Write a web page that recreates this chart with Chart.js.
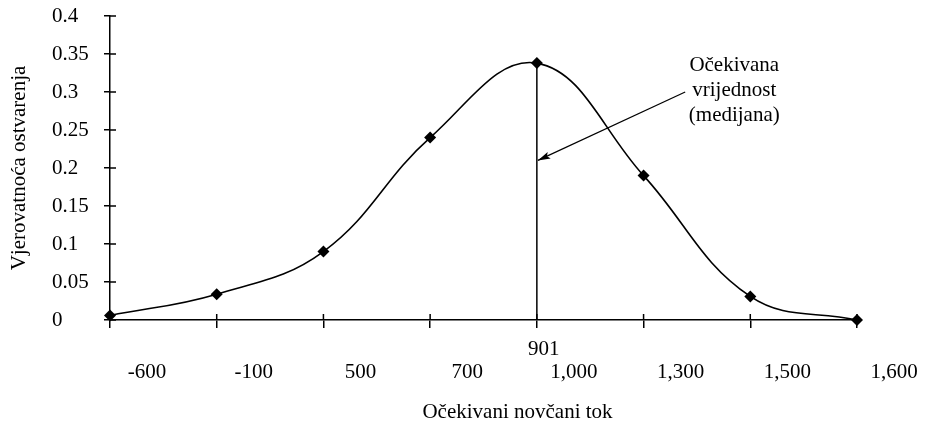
<!DOCTYPE html>
<html>
<head>
<meta charset="utf-8">
<script src="https://cdn.jsdelivr.net/npm/chart.js@4.4.1/dist/chart.umd.min.js"></script>
<style>
  html, body { margin: 0; background: #fff; }
  #wrap { width: 927px; height: 421px; }
</style>
</head>
<body>
<div id="wrap"><canvas id="chart"></canvas></div>
<script>
// data
const categories = ['-600', '-100', '500', '700', '1,000', '1,300', '1,500', '1,600'];
const probability = [0.006, 0.034, 0.09, 0.24, 0.338, 0.19, 0.031, 0];
const yMin = 0, yMax = 0.4, yStep = 0.05;
const xTitle = 'Očekivani novčani tok';
const yTitle = 'Vjerovatnoća ostvarenja';
const meanIndex = 4;
const meanLabel = '901';
const noteLines = ['Očekivana', 'vrijednost', '(medijana)'];
const noteAt = { index: 5.85, value: 0.328 };
const arrowFrom = { index: 5.39, value: 0.30 };
const arrowTo = { index: 4, value: 0.21 };

const FONT = "'Liberation Serif', 'Times New Roman', serif";

const extras = {
  id: 'extras',
  beforeDatasetsDraw(chart) {
    const { ctx, chartArea, scales: { x, y } } = chart;
    ctx.save();
    ctx.strokeStyle = '#000';
    ctx.lineWidth = 1.5;
    // median drop line
    const mx = x.getPixelForValue(meanIndex);
    ctx.beginPath();
    ctx.moveTo(mx, y.getPixelForValue(probability[meanIndex]));
    ctx.lineTo(mx, chartArea.bottom);
    ctx.stroke();
    ctx.restore();
  },
  afterDraw(chart) {
    const { ctx, chartArea, scales: { x, y } } = chart;
    ctx.save();
    ctx.strokeStyle = '#000';
    ctx.fillStyle = '#000';
    ctx.lineWidth = 1.5;

    // inner half of tick marks (they cross the axes)
    ctx.beginPath();
    x.ticks.forEach((t, i) => {
      const px = x.getPixelForTick(i);
      ctx.moveTo(px, chartArea.bottom);
      ctx.lineTo(px, chartArea.bottom - 6);
    });
    y.ticks.forEach((t, i) => {
      const py = y.getPixelForTick(i);
      ctx.moveTo(chartArea.left, py);
      ctx.lineTo(chartArea.left + 6, py);
    });
    ctx.stroke();

    // arrow to the median line
    const ax1 = x.getPixelForValue(arrowFrom.index), ay1 = y.getPixelForValue(arrowFrom.value);
    const ax2 = x.getPixelForValue(arrowTo.index) + 1, ay2 = y.getPixelForValue(arrowTo.value);
    ctx.lineWidth = 1.2;
    ctx.beginPath();
    ctx.moveTo(ax1, ay1);
    ctx.lineTo(ax2, ay2);
    ctx.stroke();
    const ang = Math.atan2(ay2 - ay1, ax2 - ax1);
    ctx.beginPath();
    ctx.moveTo(ax2, ay2);
    ctx.lineTo(ax2 - 13 * Math.cos(ang - 0.28), ay2 - 13 * Math.sin(ang - 0.28));
    ctx.lineTo(ax2 - 10 * Math.cos(ang), ay2 - 10 * Math.sin(ang));
    ctx.lineTo(ax2 - 13 * Math.cos(ang + 0.28), ay2 - 13 * Math.sin(ang + 0.28));
    ctx.closePath();
    ctx.fill();

    ctx.font = '21px ' + FONT;
    ctx.textAlign = 'center';
    ctx.textBaseline = 'alphabetic';

    // note text
    const nx = x.getPixelForValue(noteAt.index), ny = y.getPixelForValue(noteAt.value);
    noteLines.forEach((s, i) => ctx.fillText(s, nx, ny + i * 25));

    // median value under the axis
    ctx.fillText(meanLabel, x.getPixelForValue(meanIndex) + 7, chartArea.bottom + 35);

    // axis titles
    ctx.fillText(xTitle, (chartArea.left + chartArea.right) / 2 + 34, chartArea.bottom + 98);
    ctx.translate(25, (chartArea.top + chartArea.bottom) / 2);
    ctx.rotate(-Math.PI / 2);
    ctx.fillText(yTitle, 0, 0);
    ctx.restore();
  }
};

new Chart(document.getElementById('chart'), {
  type: 'line',
  data: {
    labels: categories,
    datasets: [{
      data: probability,
      borderColor: '#000',
      borderWidth: 1.6,
      tension: 0.4,
      clip: false,
      pointStyle: 'rectRot',
      pointRadius: 6,
      pointHoverRadius: 6,
      pointBackgroundColor: '#000',
      pointBorderColor: '#000',
      pointBorderWidth: 0
    }]
  },
  options: {
    responsive: true,
    maintainAspectRatio: false,
    animation: false,
    layout: { padding: { left: 52, top: 16, right: 70, bottom: 0 } },
    plugins: {
      legend: { display: false },
      tooltip: { enabled: false }
    },
    scales: {
      x: {
        offset: false,
        afterFit: (s) => { s.height = 101; },
        grid: { drawOnChartArea: false, color: '#000', lineWidth: 1.5, tickLength: 8 },
        border: { color: '#000', width: 1.5 },
        ticks: {
          color: '#000',
          font: { family: FONT, size: 21 },
          maxRotation: 0,
          autoSkip: false,
          labelOffset: 37,
          padding: 32
        }
      },
      y: {
        min: yMin,
        max: yMax,
        afterFit: (s) => { s.width = 58; },
        grid: { drawOnChartArea: false, color: '#000', lineWidth: 1.5, tickLength: 6 },
        border: { color: '#000', width: 1.5 },
        ticks: {
          stepSize: yStep,
          color: '#000',
          crossAlign: 'far',
          font: { family: FONT, size: 21 },
          callback: (v) => String(Number(v.toFixed(2)))
        }
      }
    }
  },
  plugins: [extras]
});
</script>
</body>
</html>
